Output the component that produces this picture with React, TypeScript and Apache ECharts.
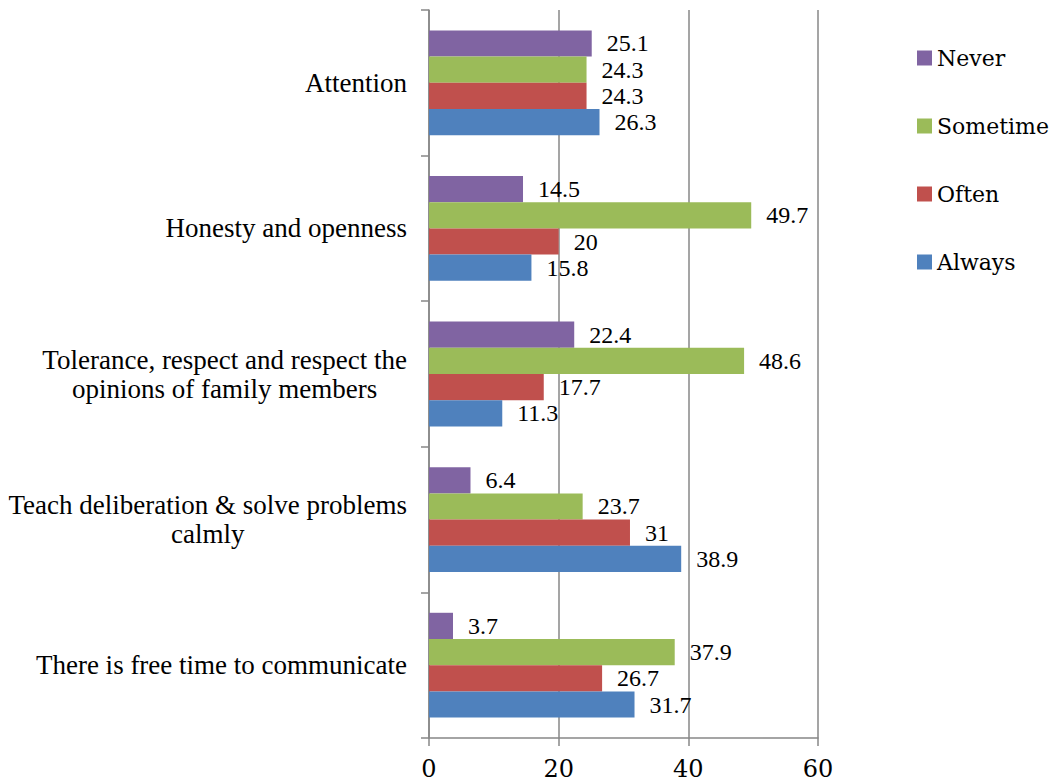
import React, { useEffect, useRef } from "react";
import * as echarts from "echarts";

const categories = [
  "There is free time to communicate",
  "Teach deliberation & solve problems\ncalmly",
  "Tolerance, respect and respect the\nopinions of family members",
  "Honesty and openness",
  "Attention",
];
// top-to-bottom order within each group
const seriesNames = ["Never", "Sometime", "Often", "Always"];
const neverValues = [3.7, 6.4, 22.4, 14.5, 25.1];
const sometimeValues = [37.9, 23.7, 48.6, 49.7, 24.3];
const oftenValues = [26.7, 31, 17.7, 20, 24.3];
const alwaysValues = [31.7, 38.9, 11.3, 15.8, 26.3];
const xTicks = { min: 0, max: 60, interval: 20 };

const colors: Record<string, string> = {
  Always: "#4F81BD",
  Often: "#C0504D",
  Sometime: "#9BBB59",
  Never: "#8064A2",
};

const SERIF_TNR = "'Liberation Serif', 'Times New Roman', serif";
const SERIF_CAMBRIA = "'DejaVu Serif', serif";

export default function App() {
  const ref = useRef<HTMLDivElement>(null);
  useEffect(() => {
    if (!ref.current) return;
    const chart = echarts.init(ref.current, null, { renderer: "svg" });
    const dataSets = [neverValues, sometimeValues, oftenValues, alwaysValues];
    const gray = "#878787";
    chart.setOption({
      animation: false,
      backgroundColor: "#ffffff",
      textStyle: { fontFamily: SERIF_TNR },
      grid: { left: 429, right: 232, top: 10, bottom: 45, containLabel: false },
      legend: {
        orient: "vertical",
        left: 912,
        top: 42,
        itemWidth: 15,
        itemHeight: 15,
        itemGap: 46,
        icon: "rect",
        data: seriesNames,
        textStyle: { fontFamily: SERIF_CAMBRIA, fontSize: 22, color: "#000" },
      },
      xAxis: {
        type: "value",
        min: xTicks.min,
        max: xTicks.max,
        interval: xTicks.interval,
        axisLine: { show: true, lineStyle: { color: gray, width: 1.5 } },
        axisTick: { show: true, length: 8, lineStyle: { color: gray, width: 1.5 } },
        splitLine: { show: true, lineStyle: { color: gray, width: 1.5 } },
        axisLabel: { fontFamily: SERIF_CAMBRIA, fontSize: 24, color: "#000", margin: 19 },
      },
      yAxis: {
        type: "category",
        data: categories,
        axisLine: { show: true, lineStyle: { color: gray, width: 1.5 } },
        axisTick: { show: true, length: 8, alignWithLabel: false, lineStyle: { color: gray, width: 1.5 } },
        axisLabel: {
          margin: 22,
          align: "right",
          formatter: (v: string) => `{c|${v}}`,
          rich: {
            c: {
              align: "center",
              fontFamily: SERIF_TNR,
              fontSize: 27,
              lineHeight: 29,
              color: "#000",
            },
          },
        },
      },
      series: seriesNames.map((name, i) => ({
        name,
        type: "bar",
        data: dataSets[i],
        barGap: "0%",
        barCategoryGap: "28%",
        itemStyle: { color: colors[name] },
        label: {
          show: true,
          position: "right",
          distance: 15,
          fontFamily: SERIF_TNR,
          fontSize: 24,
          color: "#000",
        },
      })),
    });
    return () => chart.dispose();
  }, []);
  return (
    <div
      ref={ref}
      style={{ position: "fixed", left: 0, top: 0, width: 1050, height: 783 }}
    />
  );
}
